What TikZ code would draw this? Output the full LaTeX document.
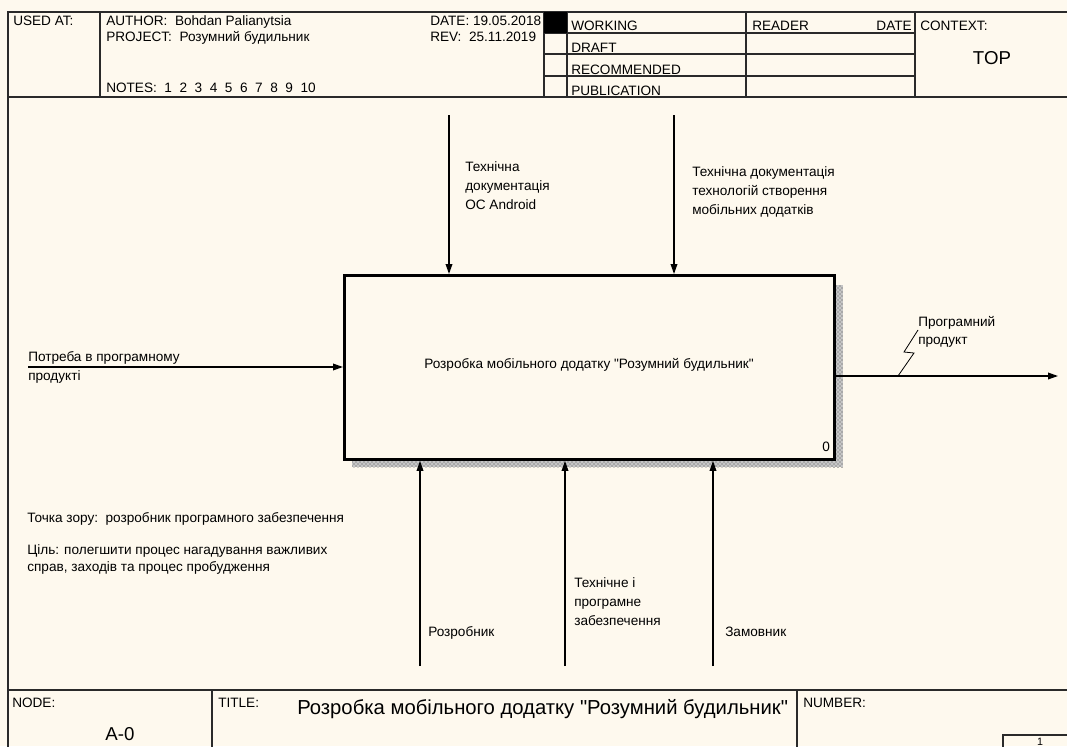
\documentclass[tikz,border=0pt]{standalone}
\usepackage{fontspec}
\setmainfont{Liberation Sans}[Ligatures=TeXOff]
\usetikzlibrary{arrows.meta,patterns}
\definecolor{paper}{HTML}{FEF9EE}
\definecolor{rule}{HTML}{2A2A2A}
\begin{document}
\begin{tikzpicture}[x=0.75pt,y=-0.75pt,
  frame/.style={draw=rule,line width=1.1pt},
  thin/.style={draw=rule,line width=0.8pt},
  lbl/.style={inner sep=0pt,anchor=base west,font=\fontsize{10.2}{14.25}\selectfont,align=left},
  big/.style={inner sep=0pt,font=\fontsize{14}{16}\selectfont},
  flow/.style={draw=black,line width=1pt,-{Triangle[length=7.5pt,width=5pt]}},
  actbox/.style={draw=black,line width=2.2pt,fill=paper,inner sep=0pt},
  shadow/.style={fill=gray!45,postaction={pattern=crosshatch dots,pattern color=black!70}},
]
\useasboundingbox (0,0) rectangle (1067,746);
\fill[paper] (0,0) rectangle (1067,746);

% ---------- outer frame ----------
\draw[frame] (8,760) -- (8,12) -- (1080,12);
\draw[frame] (8,97) -- (1080,97);
\draw[frame] (8,690) -- (1080,690);

% ---------- header ----------
\draw[frame] (100,12) -- (100,97);
\draw[frame] (544,12) -- (544,97);
\draw[frame] (567,12) -- (567,97);
\draw[frame] (746,12) -- (746,97);
\draw[frame] (915,12) -- (915,97);
\draw[thin] (544,33) -- (915,33);
\draw[thin] (544,54) -- (915,54);
\draw[thin] (544,76) -- (915,76);
\fill[black] (544,12) rectangle (567,33);

\node[lbl] (usedat) at (13,26) {USED AT:};
\node[lbl] (author) at (106,26) {AUTHOR:\ \ Bohdan Palianytsia};
\node[lbl] (project) at (106,41) {PROJECT:\ \ Розумний будильник};
\node[lbl] (notes) at (106,92) {NOTES:\ \ 1\ \ 2\ \ 3\ \ 4\ \ 5\ \ 6\ \ 7\ \ 8\ \ 9\ \ 10};
\node[lbl] (date) at (430,26) {DATE: 19.05.2018};
\node[lbl] (rev) at (430,41) {REV:\ \ 25.11.2019};
\node[lbl] (working) at (571,31) {WORKING};
\node[lbl] (draft) at (571,52) {DRAFT};
\node[lbl] (recom) at (571,74) {RECOMMENDED};
\node[lbl] (publ) at (571,95) {PUBLICATION};
\node[lbl] (reader) at (752,31) {READER};
\node[lbl,anchor=base east] (rdate) at (912,31) {DATE};
\node[lbl] (context) at (920,30) {CONTEXT:};
\node[big,anchor=base] (top) at (992,64) {TOP};

% ---------- footer ----------
\draw[frame] (212,690) -- (212,760);
\draw[frame] (797,690) -- (797,760);
\draw[frame] (1003,760) -- (1003,735) -- (1080,735);
\node[lbl] (nodelbl) at (12,707) {NODE:};
\node[big,anchor=base] (nodeid) at (120,740) {A-0};
\node[lbl] (titlelbl) at (218,707) {TITLE:};
\node[big,font=\fontsize{15.2}{17}\selectfont,anchor=base west] (title) at (297,714) {Розробка мобільного додатку "Розумний будильник"};
\node[lbl] (numlbl) at (803,707) {NUMBER:};
\node[lbl,anchor=base,font=\fontsize{8}{9}\selectfont] (pagenum) at (1040,745) {1};

% ---------- activity box ----------
\fill[shadow] (833,285) rectangle (843,467);
\fill[shadow] (352,457) rectangle (843,467);
\node[actbox,minimum width=490*0.75pt,minimum height=184*0.75pt,anchor=north west]
  (act) at (343,274) {};
\node[lbl,anchor=center] (acttext) at (589,365) {Розробка мобільного додатку "Розумний будильник"};
\node[lbl] (actnum) at (822,451) {0};

% ---------- arrow ends ----------
\coordinate (inStart) at (28,367);
\coordinate (outEnd) at (1058,376);
\coordinate (c1Start) at (449,115);
\coordinate (c2Start) at (674,115);
\coordinate (m1Start) at (420,666);
\coordinate (m2Start) at (565,666);
\coordinate (m3Start) at (713,666);

% input
\draw[flow] (inStart) -- (inStart -| act.west);
\node[lbl] (inlbl) at (28,361) {Потреба в програмному};
\node[lbl] (inlbl2) at (28,380) {продукті};

% output
\draw[flow] (outEnd -| act.east) -- (outEnd);
\coordinate (sq0) at (898,376);
\draw[black,line width=0.6pt] (sq0) -- (914,353) -- (904,352) -- (918,330);
\node[lbl,font=\fontsize{10.2}{13.5}\selectfont] (outlbl) at (918,344) {Програмний\\продукт};

% controls (multi-line labels are anchored at their last baseline)
\draw[flow] (c1Start) -- (c1Start |- act.north);
\draw[flow] (c2Start) -- (c2Start |- act.north);
\node[lbl] (c1lbl) at (465,209) {Технічна\\документація\\ОС Android};
\node[lbl] (c2lbl) at (692,214) {Технічна документація\\технологій створення\\мобільних додатків};

% mechanisms
\draw[flow] (m1Start) -- (m1Start |- act.south);
\draw[flow] (m2Start) -- (m2Start |- act.south);
\draw[flow] (m3Start) -- (m3Start |- act.south);
\node[lbl] (m1lbl) at (428,636) {Розробник};
\node[lbl] (m2lbl) at (574,625) {Технічне і\\програмне\\забезпечення};
\node[lbl] (m3lbl) at (725,636) {Замовник};

% viewpoint and purpose
\node[lbl] (view) at (27,522) {Точка зору:\ \ розробник програмного забезпечення};
\node[lbl,font=\fontsize{10.2}{12.75}\selectfont] (purpose) at (27,571) {Ціль: полегшити процес нагадування важливих\\справ, заходів та процес пробудження};
\end{tikzpicture}
\end{document}
